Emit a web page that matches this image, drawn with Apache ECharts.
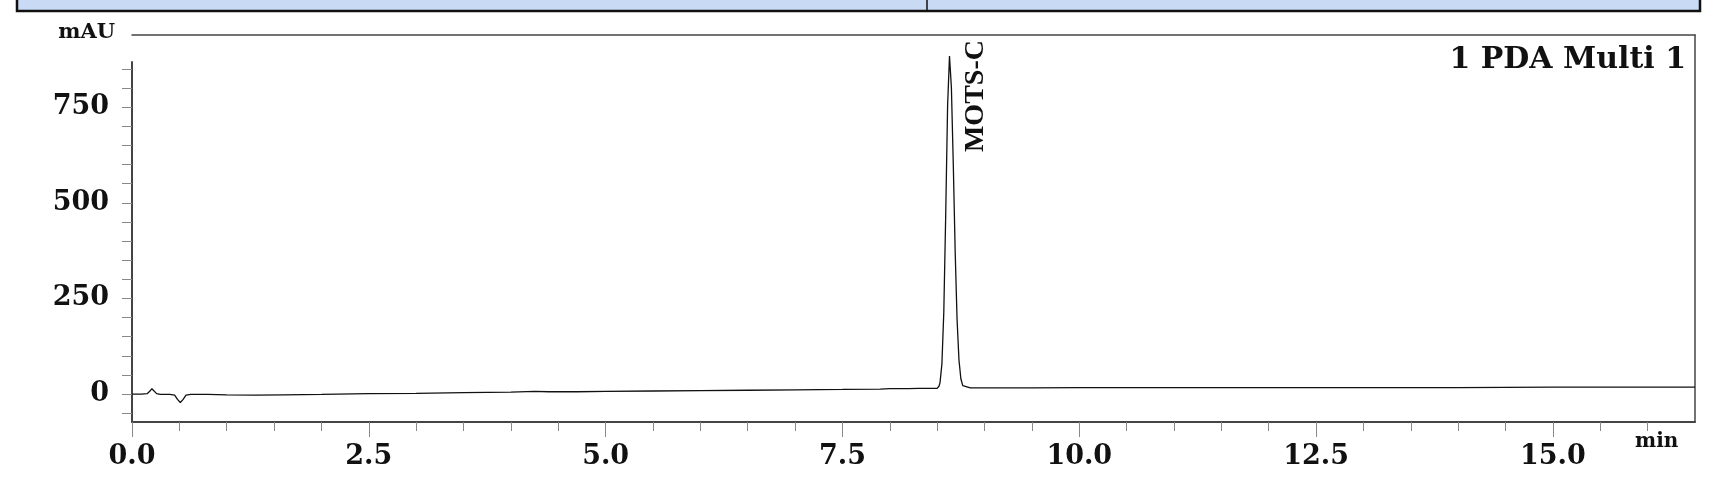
<!DOCTYPE html>
<html>
<head>
<meta charset="utf-8">
<title>MOTS-C chromatogram</title>
<script src="https://cdn.jsdelivr.net/npm/echarts@6/dist/echarts.min.js"></script>
<style>
html,body{margin:0;padding:0;background:#fff;}
#main{width:1731px;height:486px;}
</style>
</head>
<body>
<div id="main"></div>
<script>
/* data start */
var timeMin = [0.00, 0.10, 0.16, 0.19, 0.21, 0.23, 0.26, 0.30, 0.40, 0.45, 0.48, 0.51, 0.54, 0.57, 0.62, 0.80,
	1.00, 1.30, 1.60, 2.00, 2.50, 3.00, 3.50, 4.00, 4.25, 4.40, 4.70, 5.00, 5.50, 6.00, 6.50, 7.00, 7.50, 7.90,
	8.00, 8.20, 8.30, 8.40, 8.50, 8.52, 8.53, 8.55, 8.57, 8.59, 8.61, 8.63, 8.65, 8.67, 8.69, 8.71, 8.73, 8.75,
	8.77, 8.79, 8.85, 9.00, 9.50, 10.0, 10.5, 11.0, 12.0, 13.0, 14.0, 15.0, 16.5];
var absorbance = [0, 0, 1, 8, 14, 9, 1, -1, -1, -3, -14, -22, -14, -3, -1, -1,
	-2, -3, -2, -1, 1, 2, 4, 5, 7, 6, 6, 7, 8, 9, 10, 11, 12, 13,
	14, 14, 15, 15, 15, 21, 30, 79, 215, 468, 753, 883, 801, 600, 372, 194, 89, 40,
	22, 17, 16, 16, 16, 17, 17, 17, 17, 17, 17, 18, 18];
var peakName = "MOTS-C";
var peakTime = 8.63;
var peakHeight = 883;
var xMajorTicks = [0, 2.5, 5.0, 7.5, 10.0, 12.5, 15.0];
var xMinorTicks = [0, 0.5, 1, 1.5, 2, 2.5, 3, 3.5, 4, 4.5, 5, 5.5, 6, 6.5, 7, 7.5, 8, 8.5, 9, 9.5,
	10, 10.5, 11, 11.5, 12, 12.5, 13, 13.5, 14, 14.5, 15, 15.5, 16];
var yTicks = [-50, 0, 50, 100, 150, 200, 250, 300, 350, 400, 450, 500, 550, 600, 650, 700, 750, 800, 850];
var yLabels = [0, 250, 500, 750];
/* data end */

var serif = "DejaVu Serif";
var axisColor = '#444';
var tickColor = '#888';
var points = [];
for (var i = 0; i < timeMin.length; i++) {
	points.push([timeMin[i], absorbance[i]]);
}

var myChart = echarts.init(document.getElementById('main'));
var option = {
	backgroundColor: '#fff',
	animation: false,
	title: {
		text: '1 PDA Multi 1',
		right: 40,
		top: 40,
		textStyle: {fontFamily: serif, fontWeight: 'bold', fontSize: 30, color: '#111'}
	},
	// 顶部蓝条
	graphic: [{
		type: 'rect',
		shape: {x: 17, y: -6, width: 1683, height: 17},
		style: {fill: '#c9daf5', stroke: '#111', lineWidth: 2.5}
	}, {
		type: 'line',
		shape: {x1: 927, y1: 0, x2: 927, y2: 11},
		style: {stroke: '#111', lineWidth: 1.5}
	}],
	grid: [
		{left: 132, right: 36, top: 35, bottom: 64, show: false},
		{left: 132, right: 36, top: 62, bottom: 64, show: false}
	],
	xAxis: [{
		// 主刻度 + 标签
		type: 'value', gridIndex: 0, min: 0, max: 16.5, position: 'bottom',
		name: 'min', nameLocation: 'end', nameGap: -60,
		nameTextStyle: {fontFamily: serif, fontWeight: 'bold', fontSize: 20, color: '#111',
			verticalAlign: 'top', lineHeight: 40},
		axisLine: {show: true, onZero: false, lineStyle: {color: axisColor, width: 2}},
		axisTick: {show: true, length: 15, customValues: xMajorTicks, lineStyle: {color: tickColor}},
		axisLabel: {
			customValues: xMajorTicks, margin: 21,
			fontFamily: serif, fontWeight: 'bold', fontSize: 27, color: '#111',
			formatter: function(v) { return v.toFixed(1); }
		},
		splitLine: {show: false}
	}, {
		// 次刻度
		type: 'value', gridIndex: 0, min: 0, max: 16.5, position: 'bottom',
		axisLine: {show: false, onZero: false},
		axisTick: {show: true, length: 9, customValues: xMinorTicks, lineStyle: {color: tickColor}},
		axisLabel: {show: false},
		splitLine: {show: false}
	}, {
		// 顶边
		type: 'value', gridIndex: 0, min: 0, max: 16.5, position: 'top',
		axisLine: {show: true, onZero: false, lineStyle: {color: axisColor, width: 1.5}},
		axisTick: {show: false}, axisLabel: {show: false}, splitLine: {show: false}
	}, {
		type: 'value', gridIndex: 1, min: 0, max: 16.5, show: false
	}],
	yAxis: [{
		// 右边框
		type: 'value', gridIndex: 0, min: -73, max: 938, position: 'right',
		axisLine: {show: true, onZero: false, lineStyle: {color: axisColor, width: 1.5}},
		axisTick: {show: false}, axisLabel: {show: false}, splitLine: {show: false}
	}, {
		// 左轴
		type: 'value', gridIndex: 1, min: -73, max: 868, position: 'left',
		name: 'mAU', nameLocation: 'end', nameGap: 29,
		nameTextStyle: {fontFamily: serif, fontWeight: 'bold', fontSize: 21, color: '#111',
			align: 'right', verticalAlign: 'middle', padding: [0, 17, 0, 0]},
		axisLine: {show: true, onZero: false, lineStyle: {color: axisColor, width: 2}},
		axisTick: {show: true, length: 10, customValues: yTicks, lineStyle: {color: tickColor}},
		axisLabel: {
			customValues: yLabels, margin: 23,
			fontFamily: serif, fontWeight: 'bold', fontSize: 27, color: '#111'
		},
		splitLine: {show: false}
	}],
	series: [{
		type: 'line',
		xAxisIndex: 0,
		yAxisIndex: 0,
		data: points,
		showSymbol: false,
		lineStyle: {color: '#111', width: 1.3},
		markPoint: {
			symbol: 'circle',
			symbolSize: 0,
			data: [{coord: [peakTime, peakHeight]}],
			label: {
				show: true,
				formatter: peakName,
				position: [26, 96],
				rotate: 90,
				align: 'left',
				verticalAlign: 'middle',
				fontFamily: 'Liberation Serif',
				fontWeight: 'bold',
				fontSize: 28,
				color: '#111'
			}
		}
	}]
};
myChart.setOption(option);
</script>
</body>
</html>
